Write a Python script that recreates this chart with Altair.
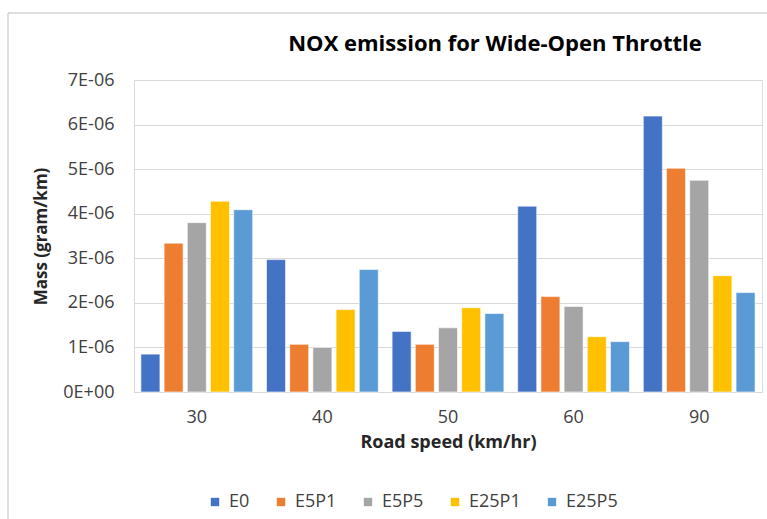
import altair as alt
import pandas as pd

# Road speeds (km/hr) and fuel blends
speeds = ["30", "40", "50", "60", "90"]
fuels = ["E0", "E5P1", "E5P5", "E25P1", "E25P5"]
colors = ["#4472C4", "#ED7D31", "#A5A5A5", "#FFC000", "#5B9BD5"]

# NOX mass (gram/km) per fuel, one value per road speed
e0 = [0.85e-6, 2.97e-6, 1.36e-6, 4.17e-6, 6.19e-6]
e5p1 = [3.34e-6, 1.07e-6, 1.07e-6, 2.14e-6, 5.02e-6]
e5p5 = [3.80e-6, 1.00e-6, 1.44e-6, 1.92e-6, 4.75e-6]
e25p1 = [4.28e-6, 1.85e-6, 1.89e-6, 1.24e-6, 2.61e-6]
e25p5 = [4.09e-6, 2.75e-6, 1.76e-6, 1.13e-6, 2.23e-6]

series = dict(zip(fuels, [e0, e5p1, e5p5, e25p1, e25p5]))
rows = [
    {"speed": s, "fuel": f, "mass": series[f][i]}
    for f in fuels
    for i, s in enumerate(speeds)
]
df = pd.DataFrame(rows)

FONT = "Open Sans"
GRID = "#D9D9D9"
TEXT = "#404040"

y_ticks = [i * 1e-6 for i in range(8)]

bars = alt.Chart(df).mark_bar(stroke="white", strokeWidth=0.6).encode(
    x=alt.X(
        "speed:N",
        sort=speeds,
        scale=alt.Scale(paddingInner=0.11, paddingOuter=0.055),
        axis=alt.Axis(
            title="Road speed (km/hr)",
            labelAngle=0,
            ticks=False,
            domainColor=GRID,
            labelFont=FONT,
            labelFontSize=18,
            labelColor=TEXT,
            labelPadding=16,
            titleFont=FONT,
            titleFontSize=18,
            titleFontWeight="bold",
            titleColor="#262626",
            titlePadding=7,
        ),
    ),
    xOffset=alt.XOffset("fuel:N", sort=fuels, scale=alt.Scale(paddingInner=0.18)),
    y=alt.Y(
        "mass:Q",
        scale=alt.Scale(domain=[0, 7e-6], nice=False),
        axis=alt.Axis(
            title="Mass (gram/km)",
            values=y_ticks,
            labelExpr="round(datum.value * 1e6) == 0 ? '0E+00' : round(datum.value * 1e6) + 'E-06'",
            ticks=False,
            domainColor=GRID,
            gridColor=GRID,
            labelFont=FONT,
            labelFontSize=18,
            labelColor=TEXT,
            labelPadding=20,
            titleFont=FONT,
            titleFontSize=17,
            titleFontWeight="bold",
            titleColor="#262626",
            titlePadding=12,
        ),
    ),
    color=alt.Color(
        "fuel:N",
        sort=fuels,
        scale=alt.Scale(domain=fuels, range=colors),
        legend=alt.Legend(
            title=None,
            orient="none",
            direction="horizontal",
            legendX=72,
            legendY=413,
            symbolType="square",
            symbolSize=70,
            symbolStrokeWidth=0,
            labelFont=FONT,
            labelFontSize=18,
            labelColor=TEXT,
            labelOffset=5,
            columnPadding=22,
        ),
    ),
)

# Light grey frame around the whole chart area
frame = alt.Chart(alt.Data(values=[{}])).mark_rect(
    filled=False, stroke="#BFBFBF", strokeWidth=1, clip=False
).encode(
    x=alt.value(-126),
    x2=alt.value(700),
    y=alt.value(-67),
    y2=alt.value(500),
)

# The frame sits above the plot, so the title is pulled back down inside it
chart = alt.layer(frame, bars).properties(
    width=628,
    height=312,
    title=alt.TitleParams(
        "NOX emission for Wide-Open Throttle",
        font=FONT,
        fontSize=22,
        fontWeight="bold",
        color="#000000",
        anchor="middle",
        frame="group",
        baseline="alphabetic",
        dx=47,
        offset=-60,
    ),
    autosize=alt.AutoSizeParams(type="none"),
    padding={"left": 134, "top": 80, "right": 5, "bottom": 127},
).configure_view(stroke=None).configure(background="white")

chart.save("out.html", embed_options={"renderer": "svg", "actions": False})
